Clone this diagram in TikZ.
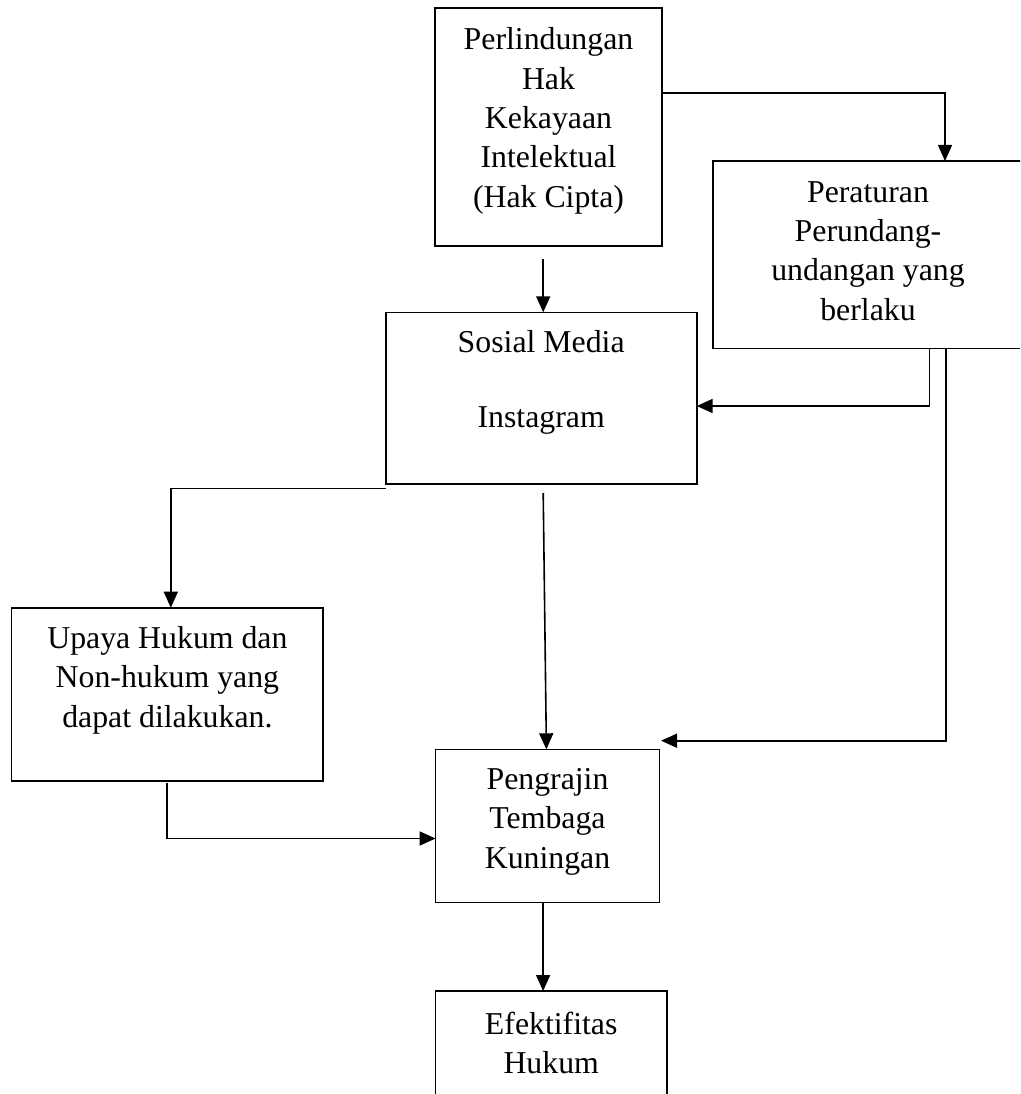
\documentclass[tikz,border=0pt]{standalone}
\usepackage{fontspec}
\setmainfont{Liberation Serif}
\usetikzlibrary{arrows.meta,calc}
\begin{document}
\begin{tikzpicture}[x=1pt,y=-1pt,
  box/.style={draw, line width=1.6pt, inner sep=0pt, outer sep=0pt},
  txt/.style={align=flush center, inner sep=0pt, anchor=base, font=\fontsize{31.8}{39.3}\selectfont},
  conn/.style={line width=1.6pt, -{Triangle[length=16pt,width=14pt]}}]
\useasboundingbox (0,0) rectangle (1020,1094);
\fill[white] (0,0) rectangle (1020,1094);
\clip (0,0) rectangle (1020,1094);
% boxes
\node[box, minimum width=226.5pt, minimum height=237.4pt] (A) at (548.5,127) {};
\node[txt, text width=220pt] (At) at (548.5,50) {Perlindungan\\Hak\\Kekayaan\\Intelektual\\(Hak Cipta)};
\node[box, minimum width=310.6pt, minimum height=187.5pt] (B) at (868,254.75) {};
\node[txt, text width=300pt] (Bt) at (868,202.3) {Peraturan\\Perundang-\\undangan yang\\berlaku};
\node[box, minimum width=311pt, minimum height=171.7pt] (C) at (541.2,398.15) {};
\node[txt, text width=300pt] (Ct) at (541.2,352.7) {Sosial Media\\[35.3pt]Instagram};
\node[box, minimum width=311.7pt, minimum height=173pt] (D) at (167.35,694.2) {};
\node[txt, text width=300pt] (Dt) at (167.4,648.5) {Upaya Hukum dan\\Non-hukum yang\\dapat dilakukan.};
\node[box, minimum width=223.8pt, minimum height=153pt] (E) at (547.5,825.8) {};
\node[txt, text width=215pt] (Et) at (547.5,789.5) {Pengrajin\\Tembaga\\Kuningan};
\node[box, minimum width=231.1pt, minimum height=180pt] (F) at (551.15,1081) {};
\node[txt, text width=220pt] (Ft) at (551.2,1034) {Efektifitas\\Hukum};
% free ends
\coordinate (Etip) at ($(E.north east)+(1.6,-8.6)$);
% connectors
\draw[conn] (A.east |- 0,93.3) -| (B.north -| 945,0);
\draw[conn] ($(A.south -| 543.2,0)+(0,13.3)$) -- (C.north -| 543.2,0);
\draw[conn] (B.south -| 929.6,0) |- (C.east |- 0,406);
\draw[conn] (B.south -| 945.7,0) |- (Etip);
\draw[conn] (C.south west |- 0,488.3) -| (D.north -| 170.8,0);
\draw[conn] ($(C.south -| 543.2,0)+(0,9)$) -- (E.north -| 546.4,0);
\draw[conn] ($(D.south -| 166.7,0)+(0,2)$) |- (E.west |- 0,838.5);
\draw[conn] (E.south -| 543.1,0) -- (F.north -| 543.1,0);
\end{tikzpicture}
\end{document}
